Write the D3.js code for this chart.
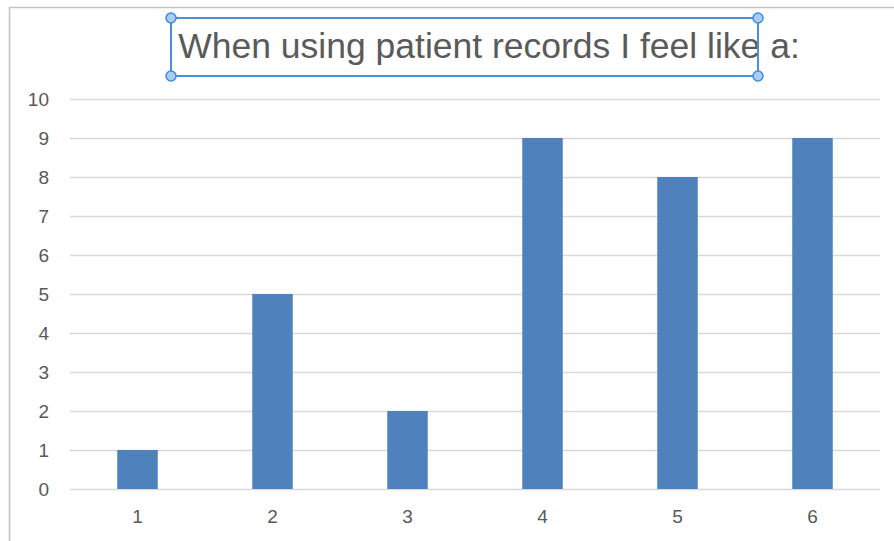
<!DOCTYPE html>
<html>
<head>
<meta charset="utf-8">
<script src="https://cdn.jsdelivr.net/npm/d3@7"></script>
<style>
  html, body { margin: 0; padding: 0; background: #fff; }
  svg { display: block; font-family: "Liberation Sans", Arial, Helvetica, sans-serif; }
</style>
</head>
<body>
<svg id="chart" width="894" height="541"></svg>
<script>
// Survey responses per rating
const categories = ["1", "2", "3", "4", "5", "6"];
const counts = [1, 5, 2, 9, 8, 9];
const yTicks = [0, 1, 2, 3, 4, 5, 6, 7, 8, 9, 10];
const titleText = "When using patient records I feel like a:";

const svg = d3.select("#chart");
const W = 894, H = 541;
const margin = { left: 70, right: 14, top: 99, bottom: 52 };
const plotW = W - margin.left - margin.right;
const plotH = H - margin.top - margin.bottom;
const labelFont = "'Liberation Sans', Arial, sans-serif";

// Frame edges
svg.append("line").attr("x1", 9).attr("x2", W).attr("y1", 7.5).attr("y2", 7.5)
  .attr("stroke", "#c4c4c4").attr("stroke-width", 1.5);
svg.append("line").attr("x1", 9.5).attr("x2", 9.5).attr("y1", 7).attr("y2", H)
  .attr("stroke", "#c4c4c4").attr("stroke-width", 1.5);

const x = d3.scaleBand().domain(categories)
  .range([margin.left, margin.left + plotW])
  .paddingInner(0.7).paddingOuter(0.35);
const y = d3.scaleLinear().domain([0, 10]).range([margin.top + plotH, margin.top]);

// Gridlines + y labels
const yAxis = d3.axisLeft(y).tickValues(yTicks).tickSize(-plotW).tickPadding(21);
const gy = svg.append("g").attr("transform", `translate(${margin.left},0)`).call(yAxis);
gy.attr("font-size", 19).attr("font-family", labelFont);
gy.select(".domain").remove();
gy.selectAll(".tick line").attr("stroke", "#d9d9d9").attr("stroke-width", 1.3);
gy.selectAll(".tick text").attr("fill", "#595959");

// Bars
svg.append("g").selectAll("rect").data(counts).join("rect")
  .attr("x", (d, i) => x(categories[i]))
  .attr("width", x.bandwidth())
  .attr("y", d => y(d))
  .attr("height", d => y(0) - y(d))
  .attr("fill", "#4f81bd");

// x labels
const xAxis = d3.axisBottom(x).tickSize(0).tickPadding(21);
const gx = svg.append("g").attr("transform", `translate(0,${margin.top + plotH})`).call(xAxis);
gx.attr("font-size", 19).attr("font-family", labelFont);
gx.select(".domain").remove();
gx.selectAll(".tick text").attr("fill", "#595959");

// Title
svg.append("text").attr("x", 489).attr("y", 58)
  .attr("text-anchor", "middle")
  .attr("fill", "#5a5a5a").attr("font-size", 35.5)
  .text(titleText);

// Selection box round the title
const box = { x0: 171, y0: 18, x1: 758, y1: 76 };
svg.append("rect").attr("x", box.x0).attr("y", box.y0)
  .attr("width", box.x1 - box.x0).attr("height", box.y1 - box.y0)
  .attr("fill", "none").attr("stroke", "#4a90d9").attr("stroke-width", 2);
[[box.x0, box.y0], [box.x1, box.y0], [box.x0, box.y1], [box.x1, box.y1]].forEach(([cx, cy]) => {
  svg.append("circle").attr("cx", cx).attr("cy", cy).attr("r", 5)
    .attr("fill", "#a9cdf2").attr("stroke", "#3d8be0").attr("stroke-width", 1.5);
});
</script>
</body>
</html>
